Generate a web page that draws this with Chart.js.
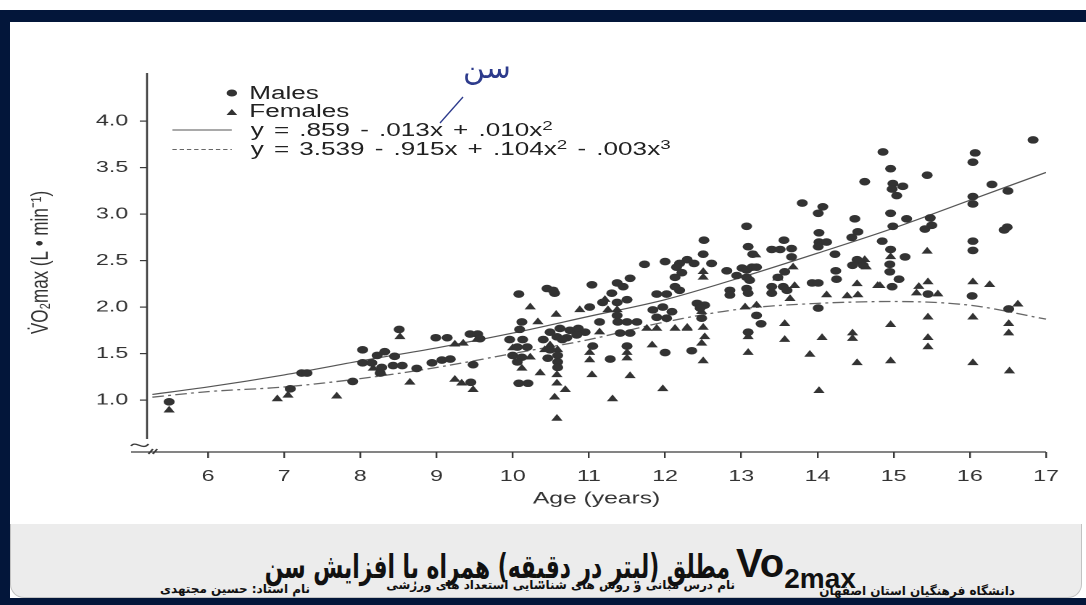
<!DOCTYPE html>
<html>
<head>
<meta charset="utf-8">
<script src="https://cdn.jsdelivr.net/npm/chart.js@4.4.0/dist/chart.umd.min.js"></script>
<style>
  html, body { margin: 0; padding: 0; background: #fff; overflow: hidden; }
  #page { position: relative; width: 1086px; height: 605px; overflow: hidden; background: #fff;
          font-family: "Liberation Sans", Arial, sans-serif; }
  .navy { position: absolute; background: #03163a; }
  #banner { position: absolute; left: 10px; top: 524px; width: 1070px; height: 73px; background: #ececec;
            border: 1px solid #c2c2c2; border-top: none; border-radius: 0 0 14px 14px; }
  /* the scanned figure is stretched sideways, so the whole chart is too */
  #figure { position: absolute; left: 10px; top: 22px; width: 742px; height: 502px;
            transform: scaleX(1.45); transform-origin: 0 0; }
  #chartBox { position: absolute; left: 0; top: 0; width: 742px; height: 502px; }
  .leg { position: absolute; font-size: 18px; color: #222; white-space: nowrap; line-height: 18px; word-spacing: 2px; }
  .leg sup { font-size: 13px; position: relative; top: -4px; vertical-align: top; }
  #note { position: absolute; left: 463px; top: 50px; font-family: "DejaVu Sans", sans-serif;
          font-size: 30px; color: #2d3b8c; }
  .fa { position: absolute; font-family: "DejaVu Sans", sans-serif; font-weight: bold; color: #111;
        white-space: nowrap; direction: rtl; }
</style>
</head>
<body>
<div id="page">
  <div class="navy" style="left:0;top:10px;width:1086px;height:12px;border-top-left-radius:6px;"></div>
  <div class="navy" style="left:0;top:10px;width:10px;height:595px;"></div>
  <div id="banner"></div>
  <div class="navy" style="left:0;top:598px;width:1086px;height:7px;"></div>

  <div id="figure">
    <div id="chartBox"><canvas id="chart"></canvas></div>
    <!-- legend, in unscaled figure units -->
    <svg style="position:absolute;left:0;top:0;overflow:visible" width="742" height="200">
      <circle cx="153" cy="71" r="3.6" fill="#333"></circle>
      <polygon points="149.3,93 156.7,93 153,87" fill="#333"></polygon>
      <line x1="112" y1="108" x2="153" y2="108" stroke="#555" stroke-width="1.2"></line>
      <line x1="112" y1="127.5" x2="153" y2="127.5" stroke="#666" stroke-width="1.2" stroke-dasharray="3,2"></line>
    </svg>
    <div class="leg" style="left:165px;top:62px;">Males</div>
    <div class="leg" style="left:165px;top:80px;">Females</div>
    <div class="leg" style="left:166px;top:99px;">y = .859 - .013x + .010x<sup>2</sup></div>
    <div class="leg" style="left:166px;top:118px;">y = 3.539 - .915x + .104x<sup>2</sup> - .003x<sup>3</sup></div>
  </div>

  <div id="note">سن</div>
  <svg style="position:absolute;left:0;top:0" width="1086" height="200">
    <path d="M463 97 L440 123" stroke="#2d3b8c" stroke-width="1.3" fill="none"></path>
  </svg>

  <div class="fa" style="right:356px;top:547px;font-size:33px;transform:scaleX(0.66);transform-origin:100% 0;">مطلق (لیتر در دقیقه) همراه با افزایش سن</div>
  <div style="position:absolute;left:736px;top:540px;font-weight:bold;font-size:40px;line-height:46px;color:#111;white-space:nowrap;">Vo<span style="font-size:28px;position:relative;top:11px;">2max</span></div>
  <div class="fa" style="right:71px;top:584px;font-size:12px;">دانشگاه فرهنگیان استان اصفهان</div>
  <div class="fa" style="right:351px;top:578px;font-size:12px;">نام درس مبانی و روش های شناسایی استعداد های ورزشی</div>
  <div class="fa" style="right:776px;top:582px;font-size:12px;">نام استاد: حسین مجتهدی</div>
</div>

<script>
// values
const maleAge = [14.86,14.96,14.62,14.99,15.12,14.98,15.04,15.44,16.07,16.04,16.83,16.29,16.50,16.04,16.04,14.96,14.99,15.17,15.48,15.50,15.41,16.49,16.45,14.85,14.96,15.15,14.95,14.95,15.07,14.98,16.04,16.04,15.45,16.03,16.51,
  13.80,14.07,14.01,14.49,13.07,12.51,14.02,14.02,14.12,14.01,14.53,14.45,13.40,13.51,13.66,13.56,13.09,13.15,12.50,12.29,12.38,12.19,12.61,13.66,14.23,14.52,14.46,14.60,13.01,13.07,13.14,12.94,13.07,13.20,13.11,12.81,14.24,14.25,13.48,13.57,13.93,14.01,13.40,13.40,13.55,13.60,12.85,12.85,13.07,13.09,12.19,12.42,12.52,12.46,13.20,13.26,12.48,14.01,13.09,12.35,
  11.73,12.00,12.15,12.22,12.13,11.54,11.04,11.37,11.45,10.45,10.55,10.53,10.08,11.30,11.50,11.18,11.37,12.13,11.89,12.02,11.84,11.97,12.09,11.89,12.02,11.01,10.12,10.09,11.37,11.38,11.50,11.63,10.49,10.62,10.75,10.86,10.95,10.58,10.71,10.84,10.40,10.65,11.41,11.54,11.14,9.96,10.13,10.19,10.06,10.49,10.59,11.05,11.50,12.00,10.00,10.12,10.06,10.46,10.59,10.59,11.28,10.08,10.20,
  5.49,7.23,7.30,7.08,8.51,8.03,8.22,8.32,8.45,8.03,8.15,8.28,8.43,8.55,8.26,7.90,8.74,8.99,9.14,8.94,9.07,9.18,9.48,9.45,9.44,9.54,9.57]
const maleVo2 = [3.67,3.49,3.35,3.33,3.30,3.27,3.20,3.42,3.66,3.56,3.80,3.32,3.25,3.19,3.11,3.01,2.87,2.95,2.96,2.88,2.84,2.86,2.83,2.71,2.62,2.54,2.46,2.38,2.30,2.22,2.71,2.61,2.14,2.12,1.98,
  3.12,3.08,3.01,2.95,2.87,2.72,2.80,2.70,2.70,2.65,2.81,2.75,2.62,2.62,2.63,2.72,2.65,2.57,2.57,2.51,2.47,2.47,2.47,2.54,2.57,2.51,2.45,2.45,2.42,2.40,2.43,2.34,2.32,2.43,2.29,2.39,2.39,2.30,2.32,2.38,2.26,2.26,2.22,2.15,2.22,2.18,2.18,2.13,2.20,2.15,2.18,2.04,2.02,1.99,1.91,1.82,1.88,1.99,1.73,1.53,
  2.46,2.49,2.43,2.37,2.32,2.31,2.24,2.26,2.22,2.20,2.15,2.18,2.14,2.15,2.08,2.05,2.05,2.22,2.14,2.14,1.97,2.00,1.95,1.89,1.88,2.00,1.84,1.76,1.91,1.84,1.84,1.84,1.73,1.77,1.75,1.77,1.73,1.68,1.67,1.70,1.65,1.65,1.72,1.72,1.84,1.65,1.65,1.57,1.57,1.54,1.48,1.58,1.58,1.51,1.48,1.46,1.41,1.45,1.41,1.35,1.44,1.18,1.18,
  0.98,1.29,1.29,1.12,1.76,1.54,1.48,1.52,1.47,1.40,1.40,1.35,1.37,1.37,1.29,1.20,1.34,1.67,1.67,1.40,1.43,1.44,1.38,1.19,1.71,1.71,1.66]

const femaleAge = [15.44,14.96,14.62,14.64,14.82,15.33,15.30,15.45,15.58,16.04,16.26,16.63,15.45,16.04,14.96,16.51,16.51,15.45,15.45,14.96,16.04,16.52,
  13.19,12.50,12.50,13.68,13.48,13.70,14.52,14.58,14.79,14.12,14.39,14.53,13.64,13.05,13.20,12.48,12.50,12.29,12.52,12.48,13.57,13.09,13.57,14.06,14.46,14.46,13.09,13.90,12.50,14.52,14.02,
  10.23,10.33,10.57,10.88,11.21,11.37,11.25,11.14,11.76,11.89,12.13,12.29,10.49,10.59,10.42,10.00,10.23,11.01,11.01,11.50,11.50,11.83,10.12,10.36,10.58,10.58,10.69,11.04,11.54,11.97,10.55,11.31,10.58,
  5.49,6.91,7.05,7.69,8.52,8.65,8.28,8.17,9.24,9.33,9.24,9.35,9.48,9.53]
const femaleVo2 = [2.60,2.54,2.51,2.43,2.23,2.22,2.15,2.27,2.14,2.27,2.24,2.03,1.89,1.89,1.81,1.82,1.72,1.67,1.57,1.42,1.40,1.31,
  2.56,2.38,2.32,2.43,2.31,2.23,2.25,2.48,2.23,2.13,2.12,2.13,2.09,2.00,2.02,1.95,1.78,1.78,1.68,1.61,1.82,1.68,1.65,1.67,1.72,1.66,1.51,1.49,1.42,1.40,1.10,
  2.00,1.84,1.92,1.97,2.08,1.97,1.97,1.73,1.77,1.77,1.77,1.77,1.59,1.54,1.54,1.56,1.46,1.51,1.43,1.51,1.45,1.59,1.34,1.29,1.27,1.18,1.11,1.27,1.26,1.12,1.03,1.01,0.80,
  0.89,1.01,1.05,1.04,1.68,1.19,1.29,1.34,1.22,1.18,1.60,1.61,1.11,1.65]

// fitted curves, read at whole years
const maleFitAge = [5.27,6,7,8,9,10,11,12,13,14,15,16,17]
const maleFit = [1.06,1.14,1.27,1.42,1.56,1.72,1.90,2.08,2.32,2.58,2.85,3.15,3.45]
const femaleFitAge = [5.27,6,7,8,9,10,11,12,13,14,15,16,17]
const femaleFit = [1.03,1.09,1.14,1.23,1.35,1.50,1.65,1.84,1.98,2.04,2.06,2.02,1.87]

const xTicks = [6,7,8,9,10,11,12,13,14,15,16,17]
const yTicks = [1.0,1.5,2.0,2.5,3.0,3.5,4.0]

function pairs(xs, ys) {
    return xs.map((x, i) => ({x: x, y: ys[i]}))
}

// draws the axis lines by hand so the broken corner looks like the scan
const brokenAxes = {
    id: 'brokenAxes',
    afterDraw(chart) {
        const ctx = chart.ctx
        const a = chart.chartArea
        ctx.save()
        ctx.strokeStyle = '#3a3a3a'
        ctx.lineWidth = 1.3
        ctx.beginPath()
        ctx.moveTo(a.left, a.top)
        ctx.lineTo(a.left, a.bottom - 13)
        ctx.moveTo(a.left - 11, a.bottom)
        ctx.lineTo(a.right, a.bottom)
        ctx.stroke()
        // little squiggle + slashes of the axis break
        ctx.beginPath()
        ctx.moveTo(a.left - 11, a.bottom - 6)
        ctx.bezierCurveTo(a.left - 8, a.bottom - 12, a.left - 3, a.bottom - 1, a.left + 1, a.bottom - 8)
        ctx.moveTo(a.left + 1, a.bottom + 2)
        ctx.lineTo(a.left + 4, a.bottom - 3)
        ctx.moveTo(a.left + 4, a.bottom + 2)
        ctx.lineTo(a.left + 7, a.bottom - 3)
        ctx.stroke()
        ctx.restore()
    }
}

const ctx = document.getElementById('chart').getContext('2d')
const chart = new Chart(ctx, {
    type: 'scatter',
    data: {
        datasets: [
            {
                label: 'Males',
                data: pairs(maleAge, maleVo2),
                pointStyle: 'circle',
                pointRadius: 3.8,
                backgroundColor: '#333',
                borderColor: '#333',
                borderWidth: 0,
                order: 1
            },
            {
                label: 'Females',
                data: pairs(femaleAge, femaleVo2),
                pointStyle: 'triangle',
                pointRadius: 4.5,
                backgroundColor: '#333',
                borderColor: '#333',
                borderWidth: 0,
                order: 1
            },
            {
                label: 'y = .859 - .013x + .010x2',
                data: pairs(maleFitAge, maleFit),
                showLine: true,
                pointRadius: 0,
                borderColor: '#555',
                borderWidth: 1.2,
                cubicInterpolationMode: 'monotone',
                order: 3
            },
            {
                label: 'y = 3.539 - .915x + .104x2 - .003x3',
                data: pairs(femaleFitAge, femaleFit),
                showLine: true,
                pointRadius: 0,
                borderColor: '#666',
                borderWidth: 1.3,
                borderDash: [8, 3, 2, 3],
                cubicInterpolationMode: 'monotone',
                clip: 8,
                order: 3
            }
        ]
    },
    options: {
        responsive: true,
        maintainAspectRatio: false,
        animation: false,
        devicePixelRatio: 2,
        layout: { padding: { left: 0, right: 27.5, top: 51, bottom: 0 } },
        plugins: {
            legend: { display: false },
            tooltip: { enabled: false }
        },
        scales: {
            x: {
                type: 'linear',
                min: 5.2,
                max: 17,
                afterBuildTicks: (scale) => { scale.ticks = xTicks.map(v => ({value: v})) },
                afterFit: (scale) => { scale.height = 72 },
                border: { display: false },
                grid: { drawOnChartArea: false, tickLength: 6, color: '#3a3a3a', lineWidth: 1.2 },
                ticks: { color: '#333', font: { size: 16, family: 'Liberation Sans' }, padding: 9, maxRotation: 0 },
                title: { display: true, text: 'Age (years)', color: '#333',
                         font: { size: 17, family: 'Liberation Sans' }, padding: { top: 0, bottom: 15 } }
            },
            y: {
                min: 0.44,
                max: 4.52,
                afterBuildTicks: (scale) => { scale.ticks = yTicks.map(v => ({value: v})) },
                afterFit: (scale) => { scale.width = 94.5 },
                border: { display: false },
                grid: { drawOnChartArea: false, tickLength: 5, color: '#3a3a3a', lineWidth: 1.2 },
                ticks: { color: '#333', font: { size: 16, family: 'Liberation Sans' }, padding: 8,
                         callback: (v) => Number(v).toFixed(1) },
                title: { display: true, text: 'V̇O₂max (L • min⁻¹)', color: '#333',
                         font: { size: 17, family: 'Liberation Sans' }, padding: { top: 11, bottom: 0 } }
            }
        }
    },
    plugins: [brokenAxes]
})
</script>
</body>
</html>
